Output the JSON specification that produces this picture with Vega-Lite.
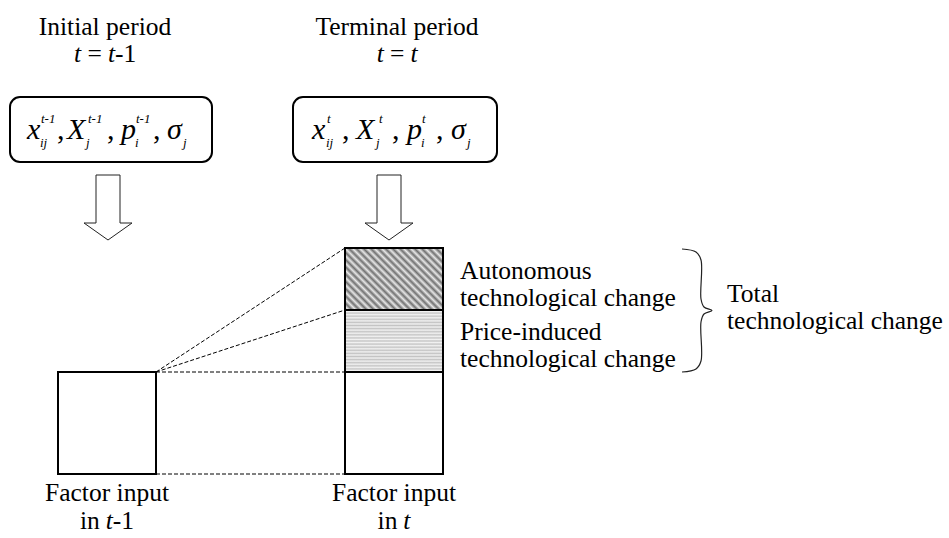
{
  "$schema": "https://vega.github.io/schema/vega-lite/v6.json",
  "width": 949,
  "height": 538,
  "autosize": {"type": "fit", "contains": "padding"},
  "padding": 0,
  "background": "white",
  "config": {"view": {"stroke": null}, "font": "'Liberation Serif', 'Times New Roman', Times, 'DejaVu Serif', serif", "text": {"font": "'Liberation Serif', 'Times New Roman', Times, 'DejaVu Serif', serif"}},
  "datasets": {
    "boxes": [
      {"name": "start", "x": 10, "x2": 212, "y": 97, "y2": 162},
      {"name": "end", "x": 293, "x2": 497, "y": 97, "y2": 162}
    ],
    "blocks": [
      {"part": "autonomous", "x": 345, "x2": 443, "y": 248, "y2": 310},
      {"part": "price", "x": 345, "x2": 443, "y": 310, "y2": 372},
      {"part": "input_t", "x": 345, "x2": 443, "y": 372, "y2": 474},
      {"part": "input_t1", "x": 58, "x2": 156, "y": 372, "y2": 474}
    ],
    "dashes": [
      {"x": 156, "y": 372, "x2": 345, "y2": 248},
      {"x": 156, "y": 372, "x2": 345, "y2": 310},
      {"x": 156, "y": 372, "x2": 345, "y2": 372},
      {"x": 156, "y": 474, "x2": 345, "y2": 474}
    ],
    "arrows": [
      {"id": "a1", "seq": 1, "x": 96, "y": 175},
      {"id": "a1", "seq": 2, "x": 120, "y": 175},
      {"id": "a1", "seq": 3, "x": 120, "y": 223},
      {"id": "a1", "seq": 4, "x": 132, "y": 223},
      {"id": "a1", "seq": 5, "x": 108, "y": 240},
      {"id": "a1", "seq": 6, "x": 84, "y": 223},
      {"id": "a1", "seq": 7, "x": 96, "y": 223},
      {"id": "a1", "seq": 8, "x": 96, "y": 175},
      {"id": "a2", "seq": 1, "x": 377, "y": 175},
      {"id": "a2", "seq": 2, "x": 401, "y": 175},
      {"id": "a2", "seq": 3, "x": 401, "y": 223},
      {"id": "a2", "seq": 4, "x": 413, "y": 223},
      {"id": "a2", "seq": 5, "x": 389, "y": 240},
      {"id": "a2", "seq": 6, "x": 365, "y": 223},
      {"id": "a2", "seq": 7, "x": 377, "y": 223},
      {"id": "a2", "seq": 8, "x": 377, "y": 175}
    ],
    "brace": [
      {"seq": 1, "x": 682, "y": 249},
      {"seq": 2, "x": 696, "y": 252},
      {"seq": 3, "x": 701, "y": 260},
      {"seq": 4, "x": 701, "y": 299},
      {"seq": 5, "x": 704, "y": 307},
      {"seq": 6, "x": 712, "y": 310.5},
      {"seq": 7, "x": 704, "y": 314},
      {"seq": 8, "x": 701, "y": 322},
      {"seq": 9, "x": 701, "y": 361},
      {"seq": 10, "x": 696, "y": 369},
      {"seq": 11, "x": 682, "y": 372}
    ],
    "texts": [
      {"role": "c", "text": "Initial period", "x": 105, "y": 35},
      {"role": "c", "text": "Terminal period", "x": 397, "y": 35},
      {"role": "c", "text": "Factor input", "x": 107, "y": 501},
      {"role": "c", "text": "Factor input", "x": 394, "y": 501},
      {"role": "l", "text": "=", "x": 87.5, "y": 62},
      {"role": "l", "text": "-1", "x": 115, "y": 62},
      {"role": "l", "text": "=", "x": 390, "y": 62},
      {"role": "l", "text": "in", "x": 80, "y": 529},
      {"role": "l", "text": "-1", "x": 112.7, "y": 529},
      {"role": "l", "text": "in", "x": 377.6, "y": 529},
      {"role": "l", "text": "Autonomous", "x": 460, "y": 279},
      {"role": "l", "text": "technological change", "x": 460, "y": 306},
      {"role": "l", "text": "Price-induced", "x": 460, "y": 340},
      {"role": "l", "text": "technological change", "x": 460, "y": 367},
      {"role": "l", "text": "Total", "x": 727, "y": 302},
      {"role": "l", "text": "technological change", "x": 727, "y": 329},
      {"role": "il", "text": "t", "x": 74, "y": 62},
      {"role": "il", "text": "t", "x": 108, "y": 62},
      {"role": "il", "text": "t", "x": 376.7, "y": 62},
      {"role": "il", "text": "t", "x": 410.4, "y": 62},
      {"role": "il", "text": "t", "x": 105.7, "y": 529},
      {"role": "il", "text": "t", "x": 403.3, "y": 529},
      {"role": "m", "text": "x", "x": 27, "y": 139},
      {"role": "m", "text": "X", "x": 67, "y": 139},
      {"role": "m", "text": "p", "x": 121, "y": 139},
      {"role": "m", "text": "σ", "x": 167, "y": 139},
      {"role": "mc", "text": ",", "x": 57, "y": 139},
      {"role": "mc", "text": ",", "x": 107, "y": 139},
      {"role": "mc", "text": ",", "x": 153, "y": 139},
      {"role": "s", "text": "t-1", "x": 41, "y": 123},
      {"role": "s", "text": "ij", "x": 40, "y": 147},
      {"role": "s", "text": "t-1", "x": 88, "y": 123},
      {"role": "s", "text": "j", "x": 86, "y": 147},
      {"role": "s", "text": "t-1", "x": 136, "y": 123},
      {"role": "s", "text": "i", "x": 135, "y": 147},
      {"role": "s", "text": "j", "x": 183, "y": 147},
      {"role": "m", "text": "x", "x": 312, "y": 139},
      {"role": "m", "text": "X", "x": 356, "y": 139},
      {"role": "m", "text": "p", "x": 407, "y": 139},
      {"role": "m", "text": "σ", "x": 451, "y": 139},
      {"role": "mc", "text": ",", "x": 342, "y": 139},
      {"role": "mc", "text": ",", "x": 392, "y": 139},
      {"role": "mc", "text": ",", "x": 436, "y": 139},
      {"role": "s", "text": "t", "x": 327, "y": 123},
      {"role": "s", "text": "ij", "x": 326, "y": 147},
      {"role": "s", "text": "t", "x": 379, "y": 123},
      {"role": "s", "text": "j", "x": 376, "y": 147},
      {"role": "s", "text": "t", "x": 422, "y": 123},
      {"role": "s", "text": "i", "x": 421, "y": 147},
      {"role": "s", "text": "j", "x": 467, "y": 147}
    ]
  },
  "encoding": {
    "x": {"field": "x", "type": "quantitative", "scale": {"domain": [0, 949], "nice": false, "zero": false}, "axis": null},
    "y": {"field": "y", "type": "quantitative", "scale": {"domain": [0, 538], "nice": false, "zero": false, "reverse": true}, "axis": null}
  },
  "layer": [
    {
      "data": {"name": "blocks"},
      "transform": [{"filter": "datum.part === 'autonomous'"}],
      "mark": {
        "type": "rect",
        "fill": {
          "gradient": "linear", "x1": 0, "y1": 1, "x2": 1.166, "y2": 0.262,
          "stops": [
            {"offset": 0, "color": "#707070"}, {"offset": 0.0227, "color": "#e8e8e8"},
            {"offset": 0.0455, "color": "#707070"}, {"offset": 0.0682, "color": "#e8e8e8"},
            {"offset": 0.0909, "color": "#707070"}, {"offset": 0.1136, "color": "#e8e8e8"},
            {"offset": 0.1364, "color": "#707070"}, {"offset": 0.1591, "color": "#e8e8e8"},
            {"offset": 0.1818, "color": "#707070"}, {"offset": 0.2045, "color": "#e8e8e8"},
            {"offset": 0.2273, "color": "#707070"}, {"offset": 0.25, "color": "#e8e8e8"},
            {"offset": 0.2727, "color": "#707070"}, {"offset": 0.2955, "color": "#e8e8e8"},
            {"offset": 0.3182, "color": "#707070"}, {"offset": 0.3409, "color": "#e8e8e8"},
            {"offset": 0.3636, "color": "#707070"}, {"offset": 0.3864, "color": "#e8e8e8"},
            {"offset": 0.4091, "color": "#707070"}, {"offset": 0.4318, "color": "#e8e8e8"},
            {"offset": 0.4545, "color": "#707070"}, {"offset": 0.4773, "color": "#e8e8e8"},
            {"offset": 0.5, "color": "#707070"}, {"offset": 0.5227, "color": "#e8e8e8"},
            {"offset": 0.5455, "color": "#707070"}, {"offset": 0.5682, "color": "#e8e8e8"},
            {"offset": 0.5909, "color": "#707070"}, {"offset": 0.6136, "color": "#e8e8e8"},
            {"offset": 0.6364, "color": "#707070"}, {"offset": 0.6591, "color": "#e8e8e8"},
            {"offset": 0.6818, "color": "#707070"}, {"offset": 0.7045, "color": "#e8e8e8"},
            {"offset": 0.7273, "color": "#707070"}, {"offset": 0.75, "color": "#e8e8e8"},
            {"offset": 0.7727, "color": "#707070"}, {"offset": 0.7955, "color": "#e8e8e8"},
            {"offset": 0.8182, "color": "#707070"}, {"offset": 0.8409, "color": "#e8e8e8"},
            {"offset": 0.8636, "color": "#707070"}, {"offset": 0.8864, "color": "#e8e8e8"},
            {"offset": 0.9091, "color": "#707070"}, {"offset": 0.9318, "color": "#e8e8e8"},
            {"offset": 0.9545, "color": "#707070"}, {"offset": 0.9773, "color": "#e8e8e8"},
            {"offset": 1, "color": "#707070"}
          ]
        }
      },
      "encoding": {"x2": {"field": "x2"}, "y2": {"field": "y2"}}
    },
    {
      "data": {"name": "blocks"},
      "transform": [{"filter": "datum.part === 'price'"}],
      "mark": {
        "type": "rect",
        "fill": {
          "gradient": "linear", "x1": 0, "y1": 0, "x2": 0, "y2": 1,
          "stops": [
            {"offset": 0, "color": "#c4c4c4"}, {"offset": 0.025, "color": "#f2f2f2"},
            {"offset": 0.05, "color": "#c4c4c4"}, {"offset": 0.075, "color": "#f2f2f2"},
            {"offset": 0.1, "color": "#c4c4c4"}, {"offset": 0.125, "color": "#f2f2f2"},
            {"offset": 0.15, "color": "#c4c4c4"}, {"offset": 0.175, "color": "#f2f2f2"},
            {"offset": 0.2, "color": "#c4c4c4"}, {"offset": 0.225, "color": "#f2f2f2"},
            {"offset": 0.25, "color": "#c4c4c4"}, {"offset": 0.275, "color": "#f2f2f2"},
            {"offset": 0.3, "color": "#c4c4c4"}, {"offset": 0.325, "color": "#f2f2f2"},
            {"offset": 0.35, "color": "#c4c4c4"}, {"offset": 0.375, "color": "#f2f2f2"},
            {"offset": 0.4, "color": "#c4c4c4"}, {"offset": 0.425, "color": "#f2f2f2"},
            {"offset": 0.45, "color": "#c4c4c4"}, {"offset": 0.475, "color": "#f2f2f2"},
            {"offset": 0.5, "color": "#c4c4c4"}, {"offset": 0.525, "color": "#f2f2f2"},
            {"offset": 0.55, "color": "#c4c4c4"}, {"offset": 0.575, "color": "#f2f2f2"},
            {"offset": 0.6, "color": "#c4c4c4"}, {"offset": 0.625, "color": "#f2f2f2"},
            {"offset": 0.65, "color": "#c4c4c4"}, {"offset": 0.675, "color": "#f2f2f2"},
            {"offset": 0.7, "color": "#c4c4c4"}, {"offset": 0.725, "color": "#f2f2f2"},
            {"offset": 0.75, "color": "#c4c4c4"}, {"offset": 0.775, "color": "#f2f2f2"},
            {"offset": 0.8, "color": "#c4c4c4"}, {"offset": 0.825, "color": "#f2f2f2"},
            {"offset": 0.85, "color": "#c4c4c4"}, {"offset": 0.875, "color": "#f2f2f2"},
            {"offset": 0.9, "color": "#c4c4c4"}, {"offset": 0.925, "color": "#f2f2f2"},
            {"offset": 0.95, "color": "#c4c4c4"}, {"offset": 0.975, "color": "#f2f2f2"},
            {"offset": 1, "color": "#c4c4c4"}
          ]
        }
      },
      "encoding": {"x2": {"field": "x2"}, "y2": {"field": "y2"}}
    },
    {
      "data": {"name": "blocks"},
      "mark": {"type": "rect", "filled": false, "stroke": "black", "strokeWidth": 2},
      "encoding": {"x2": {"field": "x2"}, "y2": {"field": "y2"}}
    },
    {
      "data": {"name": "boxes"},
      "mark": {"type": "rect", "filled": false, "stroke": "black", "strokeWidth": 2, "cornerRadius": 10},
      "encoding": {"x2": {"field": "x2"}, "y2": {"field": "y2"}}
    },
    {
      "data": {"name": "dashes"},
      "mark": {"type": "rule", "stroke": "black", "strokeWidth": 1, "strokeDash": [4, 2]},
      "encoding": {"x2": {"field": "x2"}, "y2": {"field": "y2"}}
    },
    {
      "data": {"name": "arrows"},
      "mark": {"type": "line", "stroke": "#222", "strokeWidth": 1},
      "encoding": {"detail": {"field": "id"}, "order": {"field": "seq", "type": "quantitative"}}
    },
    {
      "data": {"name": "brace"},
      "mark": {"type": "line", "stroke": "#222", "strokeWidth": 1.2, "interpolate": "catmull-rom"},
      "encoding": {"order": {"field": "seq", "type": "quantitative"}}
    },
    {
      "data": {"name": "texts"},
      "transform": [{"filter": "datum.role === 'c'"}],
      "mark": {"type": "text", "font": "'Liberation Serif', 'Times New Roman', 'DejaVu Serif', serif", "fontSize": 25.5, "align": "center", "baseline": "alphabetic", "color": "black"},
      "encoding": {"text": {"field": "text"}}
    },
    {
      "data": {"name": "texts"},
      "transform": [{"filter": "datum.role === 'l'"}],
      "mark": {"type": "text", "font": "'Liberation Serif', 'Times New Roman', 'DejaVu Serif', serif", "fontSize": 25.5, "align": "left", "baseline": "alphabetic", "color": "black"},
      "encoding": {"text": {"field": "text"}}
    },
    {
      "data": {"name": "texts"},
      "transform": [{"filter": "datum.role === 'il'"}],
      "mark": {"type": "text", "font": "'Liberation Serif', 'Times New Roman', 'DejaVu Serif', serif", "fontSize": 25.5, "fontStyle": "italic", "align": "left", "baseline": "alphabetic", "color": "black"},
      "encoding": {"text": {"field": "text"}}
    },
    {
      "data": {"name": "texts"},
      "transform": [{"filter": "datum.role === 'm'"}],
      "mark": {"type": "text", "font": "'Liberation Serif', 'Times New Roman', 'DejaVu Serif', serif", "fontSize": 30, "fontStyle": "italic", "align": "left", "baseline": "alphabetic", "color": "black"},
      "encoding": {"text": {"field": "text"}}
    },
    {
      "data": {"name": "texts"},
      "transform": [{"filter": "datum.role === 'mc'"}],
      "mark": {"type": "text", "font": "'Liberation Serif', 'Times New Roman', 'DejaVu Serif', serif", "fontSize": 30, "align": "left", "baseline": "alphabetic", "color": "black"},
      "encoding": {"text": {"field": "text"}}
    },
    {
      "data": {"name": "texts"},
      "transform": [{"filter": "datum.role === 's'"}],
      "mark": {"type": "text", "font": "'Liberation Serif', 'Times New Roman', 'DejaVu Serif', serif", "fontSize": 13, "fontStyle": "italic", "align": "left", "baseline": "alphabetic", "color": "black"},
      "encoding": {"text": {"field": "text"}}
    }
  ]
}
